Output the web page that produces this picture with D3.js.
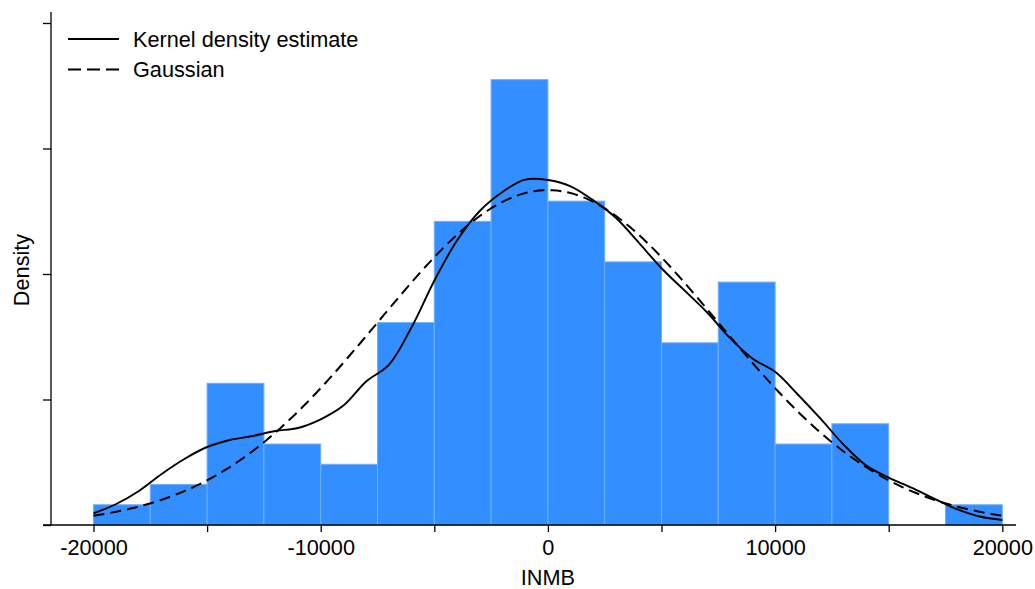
<!DOCTYPE html>
<html>
<head>
<meta charset="utf-8">
<script src="https://cdn.jsdelivr.net/npm/d3@7"></script>
<style>
  html, body { margin: 0; padding: 0; background: #fff; }
  svg { display: block; font-family: "Liberation Sans", Arial, sans-serif; }
</style>
</head>
<body>
<svg id="chart" width="1035" height="589"></svg>
<script>
// ---- data ----
const binEdges = [-20000, -17500, -15000, -12500, -10000, -7500, -5000, -2500, 0,
                  2500, 5000, 7500, 10000, 12500, 15000, 17500, 20000];
const binCounts = [1, 2, 7, 4, 3, 10, 15, 22, 16, 13, 9, 12, 4, 5, 0, 1];

const kdeX = [-20000, -19000, -18000, -17000, -16000, -15000, -14000, -13000, -12000, -11000,
              -10000, -9000, -8000, -7000, -6000, -5000, -4000, -3000, -2000, -1000,
              0, 1000, 2000, 3000, 4000, 5000, 6000, 7000, 8000, 9000,
              10000, 11000, 12000, 13000, 14000, 15000, 16000, 17000, 18000, 19000, 20000];
const kdeY = [1.86e-6, 3.35e-6, 5.42e-6, 8.13e-6, 1.052e-5, 1.243e-5, 1.355e-5, 1.418e-5, 1.498e-5, 1.546e-5,
              1.684e-5, 1.903e-5, 2.288e-5, 2.553e-5, 3.151e-5, 3.893e-5, 4.534e-5, 5.004e-5, 5.307e-5, 5.504e-5,
              5.498e-5, 5.398e-5, 5.173e-5, 4.892e-5, 4.500e-5, 4.092e-5, 3.742e-5, 3.390e-5, 2.985e-5, 2.653e-5,
              2.441e-5, 2.080e-5, 1.694e-5, 1.286e-5, 0.950e-5, 0.755e-5, 0.594e-5, 0.419e-5, 0.252e-5, 0.135e-5, 0.080e-5];

const gaussMean = 0;
const gaussSD = 7475;

const xTickLabels = [-20000, -10000, 0, 10000, 20000];
const xMinorTicks = [-15000, -5000, 5000, 15000];
const yTicks = [0, 2e-5, 4e-5, 6e-5, 8e-5];

const legendLabels = ["Kernel density estimate", "Gaussian"];
const xTitle = "INMB";
const yTitle = "Density";

// ---- chart ----
const svg = d3.select("#chart");
const binWidth = 2500;
const N = d3.sum(binCounts);

const x = d3.scaleLinear().domain([-20000, 20000]).range([93.5, 1002.3]);
const y = d3.scaleLinear().domain([0, 8e-5]).range([525, 23]);

const fontSize = 21.7;

// bars
const bars = binCounts.map((c, i) => ({x0: binEdges[i], x1: binEdges[i + 1], d: c / (N * binWidth)}));
svg.append("g").selectAll("rect")
  .data(bars.filter(b => b.d > 0))
  .join("rect")
  .attr("x", b => x(b.x0))
  .attr("width", b => x(b.x1) - x(b.x0))
  .attr("y", b => y(b.d))
  .attr("height", b => y(0) - y(b.d))
  .attr("fill", "#338fff")
  .attr("stroke", "#6eaefc")
  .attr("stroke-width", 1);

// Gaussian curve (from fitted mean / sd)
const gx = d3.range(-20000, 20001, 200);
const gauss = gx.map(v => [v, Math.exp(-0.5 * ((v - gaussMean) / gaussSD) ** 2) / (gaussSD * Math.sqrt(2 * Math.PI))]);

svg.append("path")
  .datum(gauss)
  .attr("d", d3.line().x(d => x(d[0])).y(d => y(d[1])))
  .attr("fill", "none")
  .attr("stroke", "#000")
  .attr("stroke-width", 2)
  .attr("stroke-dasharray", "11,6");

// KDE
svg.append("path")
  .datum(kdeX.map((v, i) => [v, kdeY[i]]))
  .attr("d", d3.line().x(d => x(d[0])).y(d => y(d[1])).curve(d3.curveCatmullRom))
  .attr("fill", "none")
  .attr("stroke", "#000")
  .attr("stroke-width", 1.9);

// x axis
svg.append("line").attr("x1", 43).attr("x2", 1016).attr("y1", 525).attr("y2", 525)
  .attr("stroke", "#000").attr("stroke-width", 1.3);
const xAxis = d3.axisBottom(x).tickValues(xTickLabels.concat(xMinorTicks).sort(d3.ascending))
  .tickSize(7).tickSizeOuter(0)
  .tickFormat(d => xTickLabels.includes(d) ? String(d) : "");
const xa = svg.append("g").attr("transform", "translate(0,525)").call(xAxis);
xa.select(".domain").remove();
xa.selectAll(".tick line").attr("stroke", "#000").attr("stroke-width", 1.3);
xa.selectAll(".tick text").attr("font-size", fontSize).attr("font-family", "Liberation Sans, Arial, sans-serif")
  .attr("fill", "#000").attr("dy", null).attr("y", 30);

// y axis
svg.append("line").attr("x1", 51).attr("x2", 51).attr("y1", 12).attr("y2", 525)
  .attr("stroke", "#000").attr("stroke-width", 1.3);
const yAxis = d3.axisLeft(y).tickValues(yTicks).tickSize(8).tickSizeOuter(0).tickFormat("");
const ya = svg.append("g").attr("transform", "translate(51,0)").call(yAxis);
ya.select(".domain").remove();
ya.selectAll(".tick line").attr("stroke", "#000").attr("stroke-width", 1.3);

// titles
svg.append("text").attr("x", x(0)).attr("y", 585).attr("text-anchor", "middle")
  .attr("font-size", fontSize).attr("fill", "#000").text(xTitle);
svg.append("text").attr("transform", "translate(29,270) rotate(-90)").attr("text-anchor", "middle")
  .attr("font-size", fontSize).attr("fill", "#000").text(yTitle);

// legend
const leg = svg.append("g");
legendLabels.forEach((lab, i) => {
  const ly = 39 + i * 30.5;
  leg.append("line").attr("x1", 68).attr("x2", 119).attr("y1", ly).attr("y2", ly)
    .attr("stroke", "#000").attr("stroke-width", 2)
    .attr("stroke-dasharray", i === 1 ? "13,6" : null);
  leg.append("text").attr("x", 133).attr("y", ly).attr("dy", "0.35em")
    .attr("font-size", fontSize).attr("fill", "#000").text(lab);
});
</script>
</body>
</html>
